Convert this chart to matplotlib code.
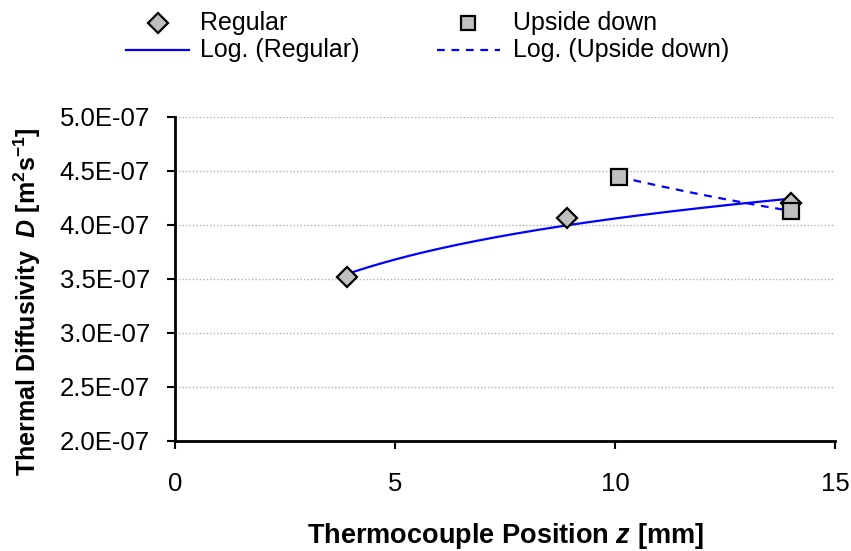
import numpy as np
import matplotlib
matplotlib.use("Agg")
import matplotlib.pyplot as plt
from matplotlib.lines import Line2D
from matplotlib.ticker import FuncFormatter

plt.rcParams['font.family'] = ['Liberation Sans', 'DejaVu Sans']
plt.rcParams['mathtext.fontset'] = 'custom'
plt.rcParams['mathtext.it'] = 'Liberation Sans:italic:bold'
plt.rcParams['mathtext.rm'] = 'Liberation Sans:bold'
plt.rcParams['mathtext.bf'] = 'Liberation Sans:bold'

# data
regular_z = [3.9, 8.9, 14.0]
regular_D = [3.52e-7, 4.065e-7, 4.20e-7]
upside_z = [10.1, 14.0]
upside_D = [4.445e-7, 4.13e-7]
x_ticks = [0, 5, 10, 15]
y_ticks = [2.0e-7, 2.5e-7, 3.0e-7, 3.5e-7, 4.0e-7, 4.5e-7, 5.0e-7]
legend_labels = ['Regular', 'Upside down', 'Log. (Regular)', 'Log. (Upside down)']

W, H = 851, 551

def log_fit(x, y):
    x = np.asarray(x); y = np.asarray(y)
    a, b = np.polyfit(np.log(x), y, 1)
    xs = np.linspace(x.min(), x.max(), 200)
    return xs, a * np.log(xs) + b

fig = plt.figure(figsize=(W/100, H/100), dpi=100)
ax = fig.add_axes([175/W, 1-441/H, (835-175)/W, (441-117)/H])

ax.yaxis.grid(True, color='#b0b0b0', linestyle=(0, (1, 1.5)), linewidth=1.0)
ax.set_axisbelow(True)

blue = '#0000FF'
dash = (0, (3.5, 3))
xs, ys = log_fit(regular_z, regular_D)
ax.plot(xs, ys, color=blue, linewidth=1.6, zorder=3)
xs2, ys2 = log_fit(upside_z, upside_D)
ax.plot(xs2, ys2, color=blue, linewidth=1.6, linestyle=dash, zorder=3)

mk = dict(linestyle='none', markerfacecolor='#C0C0C0', markeredgecolor='black', markeredgewidth=1.6)
ax.plot(regular_z, regular_D, marker='D', markersize=10.5, zorder=4, **mk)
ax.plot(upside_z, upside_D, marker='s', markersize=11, zorder=5, **mk)

ax.set_xlim(0, 15)
ax.set_ylim(2.0e-7, 5.0e-7)
ax.set_xticks(x_ticks)
ax.set_yticks(y_ticks)
ax.yaxis.set_major_formatter(FuncFormatter(lambda v, p: '%.1E' % v))

for s in ['top', 'right']:
    ax.spines[s].set_visible(False)
for s in ['left', 'bottom']:
    ax.spines[s].set_linewidth(2.0)
ax.tick_params(axis='both', labelsize=18.5, width=1.5, length=6, direction='out')
ax.tick_params(axis='x', pad=16)
ax.tick_params(axis='y', pad=12)

ax.set_xlabel(r'Thermocouple Position $z$ [mm]', fontsize=19.5, fontweight='bold', labelpad=18)
ax.set_ylabel(r'Thermal Diffusivity  $D$ [m$^\mathrm{2}$s$^\mathrm{-1}$]', fontsize=18,
              fontweight='bold')
ax.yaxis.set_label_coords(-0.200, 0.43)

# legend drawn manually (Excel style layout)
def fx(px):
    return px / W
def fy(py):
    return 1 - py / H

row_y = [23, 50]
text_x = [200, 513]
tkw = dict(fontsize=18, va='center', ha='left', transform=fig.transFigure)
# row 1: markers
fig.add_artist(Line2D([fx(158)], [fy(row_y[0])], marker='D', markersize=10,
                      transform=fig.transFigure, **mk))
fig.add_artist(Line2D([fx(468)], [fy(row_y[0])], marker='s', markersize=10.5,
                      transform=fig.transFigure, **mk))
fig.text(fx(text_x[0]), fy(row_y[0]), legend_labels[0], **tkw)
fig.text(fx(text_x[1]), fy(row_y[0]), legend_labels[1], **tkw)
# row 2: lines
fig.add_artist(Line2D([fx(126), fx(189)], [fy(row_y[1])] * 2, color=blue, linewidth=1.6,
                      transform=fig.transFigure))
fig.add_artist(Line2D([fx(437), fx(500)], [fy(row_y[1])] * 2, color=blue, linewidth=1.6,
                      linestyle=dash, transform=fig.transFigure))
fig.text(fx(text_x[0]), fy(row_y[1]), legend_labels[2], **tkw)
fig.text(fx(text_x[1]), fy(row_y[1]), legend_labels[3], **tkw)

fig.savefig('out.png', dpi=100)
